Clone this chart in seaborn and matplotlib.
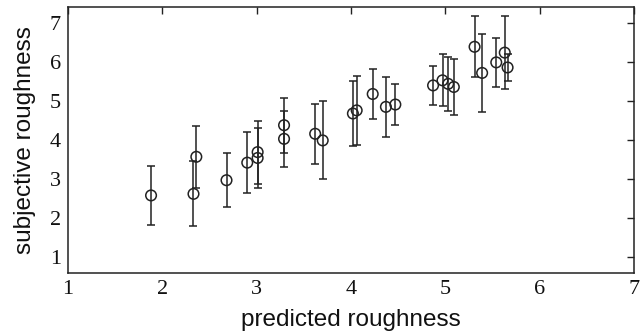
import numpy as np
import pandas as pd
import matplotlib
matplotlib.use("Agg")
import matplotlib.pyplot as plt
import seaborn as sns

# values
predicted = [1.88, 2.33, 2.36, 2.68, 2.90, 3.01, 3.01, 3.29, 3.29, 3.62, 3.70, 4.02, 4.06,
             4.23, 4.37, 4.47, 4.87, 4.97, 5.03, 5.09, 5.31, 5.39, 5.54, 5.63, 5.66]
subjective = [2.59, 2.63, 3.58, 2.98, 3.43, 3.70, 3.55, 4.39, 4.04, 4.17, 4.00, 4.69, 4.77,
              5.19, 4.86, 4.92, 5.41, 5.54, 5.45, 5.37, 6.40, 5.73, 6.00, 6.25, 5.87]
spread = [0.76, 0.83, 0.79, 0.69, 0.79, 0.81, 0.78, 0.70, 0.72, 0.77, 1.00, 0.84, 0.88,
          0.64, 0.77, 0.53, 0.50, 0.67, 0.70, 0.72, 0.78, 0.99, 0.63, 0.93, 0.35]
ticks = [1, 2, 3, 4, 5, 6, 7]

df = pd.DataFrame({"predicted": predicted, "subjective": subjective, "err": spread})

sns.set_style("white")
plt.rcParams["font.family"] = ["Liberation Sans", "DejaVu Sans"]

fig = plt.figure(figsize=(6.42, 3.33), dpi=100)
ax = fig.add_axes([0.106, 0.180, 0.8815, 0.799])

ink = "#222222"
ax.errorbar(df["predicted"], df["subjective"], yerr=df["err"], fmt="none",
            ecolor=ink, elinewidth=1.1, capsize=3, capthick=1.1, zorder=2)
sns.scatterplot(data=df, x="predicted", y="subjective", ax=ax, marker="o", s=58,
                facecolor="none", edgecolor=ink, linewidth=1.1, zorder=3)

ax.set_xlim(1, 7)
ax.set_ylim(0.6, 7.42)
ax.set_xticks(ticks)
ax.set_yticks(ticks)
ax.set_xticklabels([str(t) for t in ticks], family="Liberation Serif", fontsize=16)
ax.set_yticklabels([str(t) for t in ticks], family="Liberation Serif", fontsize=16)
ax.tick_params(direction="in", length=5, width=1, top=True, right=True,
               colors=ink, labelcolor="#111111", pad=5)
for s in ax.spines.values():
    s.set_color(ink)
    s.set_linewidth(1.1)

ax.set_xlabel("predicted roughness", fontsize=17.5, color="#111111", labelpad=7)
ax.set_ylabel("subjective roughness", fontsize=17.5, color="#111111", labelpad=10)

fig.savefig("out.png", dpi=100)
